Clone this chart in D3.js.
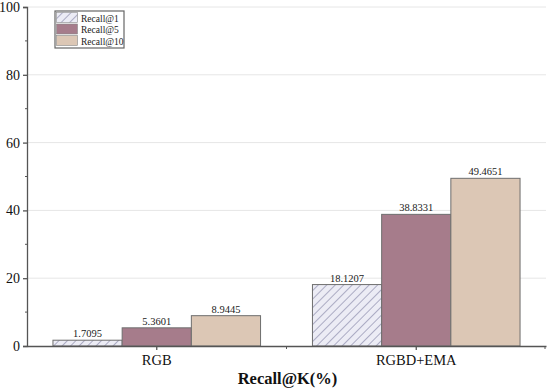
<!DOCTYPE html>
<html>
<head>
<meta charset="utf-8">
<script src="https://cdn.jsdelivr.net/npm/d3@7"></script>
<style>
  body { margin: 0; background: #fff; }
  svg text { font-family: 'Liberation Serif', 'Times New Roman', serif !important; }
</style>
</head>
<body>
<div id="chart"></div>
<script>
const groups = ['RGB', 'RGBD+EMA']
const seriesNames = ['Recall@1', 'Recall@5', 'Recall@10']
const recall1 = [1.7095, 18.1207]
const recall5 = [5.3601, 38.8331]
const recall10 = [8.9445, 49.4651]
const valueLabels = [['1.7095', '18.1207'], ['5.3601', '38.8331'], ['8.9445', '49.4651']]
const yTicks = [0, 20, 40, 60, 80, 100]

const drawChart = () => {
  const dims = { width: 550, height: 389, left: 27, right: 4, top: 7, bottom: 43 }
  const innerWidth = dims.width - dims.left - dims.right
  const innerHeight = dims.height - dims.top - dims.bottom

  const svg = d3.select('#chart')
    .append('svg')
    .attr('width', dims.width)
    .attr('height', dims.height)

  // diagonal hatching for Recall@1
  const defs = svg.append('defs')
  const hatch = defs.append('pattern')
    .attr('id', 'hatch')
    .attr('patternUnits', 'userSpaceOnUse')
    .attr('width', 6)
    .attr('height', 6)
    .attr('patternTransform', 'rotate(45)')
  hatch.append('rect').attr('width', 6).attr('height', 6).attr('fill', '#ececf5')
  hatch.append('line')
    .attr('x1', 0).attr('y1', 0).attr('x2', 0).attr('y2', 6)
    .attr('stroke', '#8f8fae').attr('stroke-width', 1.4)

  const fills = ['url(#hatch)', '#a67c8b', '#dcc7b5']
  const seriesValues = [recall1, recall5, recall10]

  const canvas = svg.append('g')
    .attr('transform', `translate(${dims.left}, ${dims.top})`)

  const xScale = d3.scaleBand()
    .domain(groups)
    .range([0, innerWidth])
    .paddingInner(0.2)
    .paddingOuter(0.1)

  const xSub = d3.scaleBand()
    .domain(seriesNames)
    .range([0, xScale.bandwidth()])

  const yScale = d3.scaleLinear()
    .domain([0, 100])
    .range([innerHeight, 0])

  // grid lines
  canvas.append('g')
    .selectAll('line')
    .data(yTicks.filter(d => d > 0))
    .join('line')
    .attr('x1', 0)
    .attr('x2', innerWidth)
    .attr('y1', d => yScale(d))
    .attr('y2', d => yScale(d))
    .attr('stroke', '#e6e6e6')
    .attr('stroke-width', 1)

  // bars + value labels
  seriesNames.forEach((name, si) => {
    const barGroup = canvas.append('g')
    barGroup.selectAll('rect')
      .data(groups)
      .join('rect')
      .attr('x', (g) => xScale(g) + xSub(name))
      .attr('y', (g, gi) => yScale(seriesValues[si][gi]))
      .attr('width', xSub.bandwidth())
      .attr('height', (g, gi) => innerHeight - yScale(seriesValues[si][gi]))
      .attr('fill', fills[si])
      .attr('stroke', '#6e6e6e')
      .attr('stroke-width', 1)

    barGroup.selectAll('text')
      .data(groups)
      .join('text')
      .attr('x', (g) => xScale(g) + xSub(name) + xSub.bandwidth() / 2)
      .attr('y', (g, gi) => yScale(seriesValues[si][gi]) - 3)
      .attr('text-anchor', 'middle')
      .attr('font-size', '10.5px')
      .attr('fill', '#222')
      .text((g, gi) => valueLabels[si][gi])
  })

  // y axis
  const yAxis = d3.axisLeft(yScale)
    .tickValues(yTicks)
    .tickSize(4)
    .tickPadding(3)
  const yAxisGroup = canvas.append('g').call(yAxis)
  yAxisGroup.select('.domain').attr('stroke', '#555').attr('stroke-width', 1.3)
  yAxisGroup.selectAll('.tick line').attr('stroke', '#555').attr('stroke-width', 1.3)
  yAxisGroup.selectAll('.tick text')
    .attr('font-size', '14px')
    .attr('fill', '#111')

  // y minor ticks
  canvas.append('g')
    .selectAll('line')
    .data([10, 30, 50, 70, 90])
    .join('line')
    .attr('x1', -2)
    .attr('x2', 0)
    .attr('y1', d => yScale(d))
    .attr('y2', d => yScale(d))
    .attr('stroke', '#555')

  // x axis
  const xAxis = d3.axisBottom(xScale)
    .tickSize(4)
    .tickPadding(5)
    .tickSizeOuter(0)
  const xAxisGroup = canvas.append('g')
    .attr('transform', `translate(0, ${innerHeight})`)
    .call(xAxis)
  xAxisGroup.select('.domain').attr('stroke', '#555').attr('stroke-width', 1.3)
  xAxisGroup.selectAll('.tick line').attr('stroke', '#555').attr('stroke-width', 1.3)
  xAxisGroup.selectAll('.tick text')
    .attr('font-size', '14.5px')
    .attr('fill', '#111')

  // minor ticks between groups and at the right end
  const centers = groups.map(g => xScale(g) + xScale.bandwidth() / 2)
  const step = centers[1] - centers[0]
  xAxisGroup.append('g')
    .selectAll('line')
    .data([centers[0] + step / 2, centers[1] + step / 2 - 1])
    .join('line')
    .attr('x1', d => d).attr('x2', d => d)
    .attr('y1', 0).attr('y2', 3)
    .attr('stroke', '#555')

  // axis title
  svg.append('text')
    .attr('x', dims.left + innerWidth / 2 + 1)
    .attr('y', dims.height - 5)
    .attr('text-anchor', 'middle')
    .attr('font-size', '16.5px')
    .attr('font-weight', 'bold')
    .attr('fill', '#111')
    .text('Recall@K(%)')

  // legend
  const legend = svg.append('g').attr('transform', 'translate(55, 11)')
  legend.append('rect')
    .attr('width', 69)
    .attr('height', 37)
    .attr('fill', '#fff')
    .attr('stroke', '#666')
    .attr('stroke-width', 1.2)
  seriesNames.forEach((name, i) => {
    legend.append('rect')
      .attr('x', 1.5)
      .attr('y', 1.5 + i * 11.5)
      .attr('width', 21)
      .attr('height', 10)
      .attr('fill', fills[i])
      .attr('stroke', '#888')
      .attr('stroke-width', 0.6)
    legend.append('text')
      .attr('x', 26)
      .attr('y', 10.5 + i * 11.5)
      .attr('font-size', '9.5px')
      .attr('fill', '#222')
      .text(name)
  })
}

drawChart()
</script>
</body>
</html>
